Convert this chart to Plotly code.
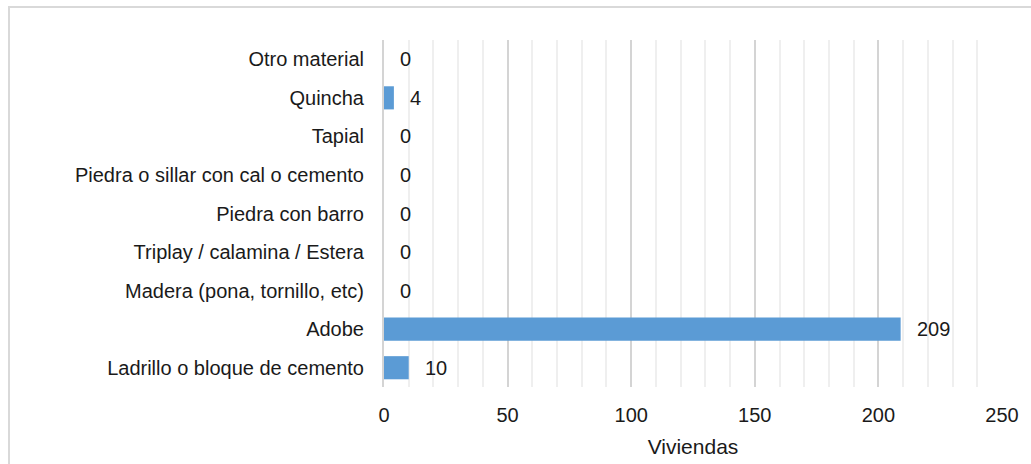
import plotly.graph_objects as go

# Material predominante de las paredes (de abajo hacia arriba)
categorias = [
    "Ladrillo o bloque de cemento",
    "Adobe",
    "Madera (pona, tornillo, etc)",
    "Triplay / calamina / Estera",
    "Piedra con barro",
    "Piedra o sillar con cal o cemento",
    "Tapial",
    "Quincha",
    "Otro material",
]
viviendas = [10, 209, 0, 0, 0, 0, 0, 4, 0]
ticks_x = [0, 50, 100, 150, 200, 250]

FONT = "Liberation Sans, Arial, sans-serif"
BAR = "#5B9BD5"
TXT = "#1a1a1a"

fig = go.Figure()
fig.add_trace(go.Bar(
    y=categorias,
    x=viviendas,
    orientation="h",
    marker=dict(color=BAR, line=dict(width=0)),
    width=0.6,
    hoverinfo="x+y",
))

# value labels next to each bar
for cat, val in zip(categorias, viviendas):
    fig.add_annotation(
        x=val, y=cat, xref="x", yref="y",
        text=str(val), showarrow=False,
        xanchor="left", yanchor="middle", xshift=14,
        font=dict(family=FONT, size=20, color=TXT),
    )

# light outer frame around the chart
fig.add_shape(
    type="rect", xref="paper", yref="paper",
    x0=-0.6068, x1=1.07, y0=-0.27, y1=1.0951,
    line=dict(color="#d9d9d9", width=2), fillcolor="rgba(0,0,0,0)",
    layer="below",
)

fig.update_layout(
    width=1031, height=464,
    margin=dict(l=384, r=29, t=40, b=77, autoexpand=False),
    paper_bgcolor="white", plot_bgcolor="white",
    showlegend=False,
    bargap=0.4,
    font=dict(family=FONT, size=20, color=TXT),
    xaxis=dict(
        range=[0, 250],
        tickvals=ticks_x,
        ticktext=[str(t) for t in ticks_x],
        showgrid=True, gridcolor="#d4d4d4", gridwidth=2,
        minor=dict(dtick=10, showgrid=True, gridcolor="#efefef", gridwidth=2),
        zeroline=False, showline=False,
        ticks="", ticklabelstandoff=14,
        automargin=False,
        tickfont=dict(family=FONT, size=20, color=TXT),
        title=dict(text="Viviendas", standoff=14,
                   font=dict(family=FONT, size=21, color=TXT)),
        fixedrange=True,
    ),
    yaxis=dict(
        categoryorder="array", categoryarray=categorias,
        range=[-0.5, 8.5],
        showgrid=False, zeroline=False,
        showline=True, linecolor="#d4d4d4", linewidth=2,
        ticks="", ticklabelstandoff=14,
        automargin=False,
        tickfont=dict(family=FONT, size=20, color=TXT),
        fixedrange=True,
    ),
)

fig.write_html("out.html")
